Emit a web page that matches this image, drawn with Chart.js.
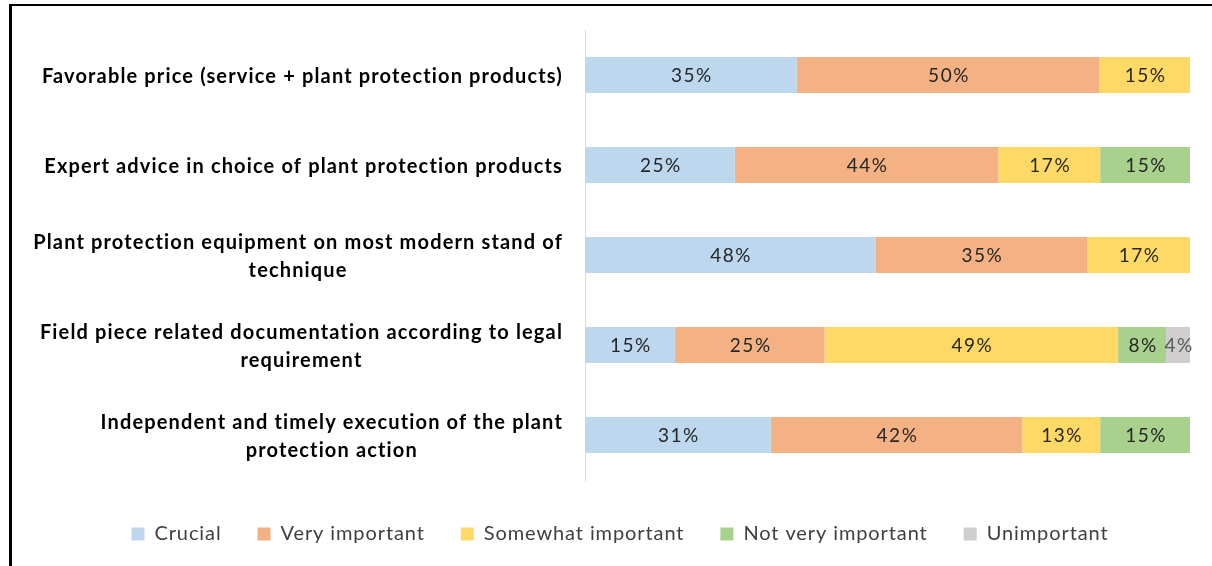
<!DOCTYPE html>
<html>
<head>
<meta charset="utf-8">
<script src="https://cdn.jsdelivr.net/npm/chart.js@4.4.1/dist/chart.umd.min.js"></script>
<style>
  html, body { margin: 0; padding: 0; background: #fff; }
  #wrap { position: relative; width: 1212px; height: 566px; }
  #frame {
    position: absolute; left: 9px; top: 4px; right: 0; bottom: 0;
    border-top: 2px solid #000; border-left: 3px solid #000;
    pointer-events: none;
  }
</style>
</head>
<body>
<div id="wrap">
  <canvas id="chart" width="1212" height="566"></canvas>
  <div id="frame"></div>
</div>
<script>
const categories = [
  ['Favorable price (service + plant protection products)'],
  ['Expert advice in choice of plant protection products'],
  ['Plant protection equipment on most modern stand of', 'technique'],
  ['Field piece related documentation according to legal', 'requirement'],
  ['Independent and timely execution of the plant', 'protection action']
];

const seriesNames = ['Crucial', 'Very important', 'Somewhat important', 'Not very important', 'Unimportant'];

// answer shares in percent, one entry per category
const crucial           = [35, 25, 48, 15, 31];
const veryImportant     = [50, 44, 35, 25, 42];
const somewhatImportant = [15, 17, 17, 49, 13];
const notVeryImportant  = [null, 15, null, 8, 15];
const unimportant       = [null, null, null, 4, null];

const seriesValues = [crucial, veryImportant, somewhatImportant, notVeryImportant, unimportant];
const seriesColors = ['#BDD7EE', '#F4B183', '#FFD966', '#A9D18E', '#D0CECE'];
const labelColors  = ['#262626', '#262626', '#262626', '#262626', '#595959'];

// rounded shares don't always add up to 100, so scale each row to a full bar
const rowTotals = categories.map((_, i) =>
  seriesValues.reduce((sum, s) => sum + (s[i] || 0), 0));

const datasets = seriesNames.map((name, k) => ({
  label: name,
  data: seriesValues[k].map((v, i) => v == null ? null : v / rowTotals[i] * 100),
  raw: seriesValues[k],
  backgroundColor: seriesColors[k],
  borderWidth: 0,
  categoryPercentage: 0.8,
  barPercentage: 0.5
}));

const FONT = 'Lato, "Open Sans", sans-serif';

// slightly looser tracking for all canvas text (legend included)
const tracking = {
  id: 'tracking',
  beforeUpdate(chart) { chart.ctx.letterSpacing = '0.9px'; },
  beforeDraw(chart) { chart.ctx.letterSpacing = '0.9px'; }
};

// category names: lines centred on each other, longest line right-aligned to the axis
const categoryLabels = {
  id: 'categoryLabels',
  afterDraw(chart) {
    const {ctx, scales: {y}} = chart;
    ctx.save();
    ctx.font = 'bold 20px ' + FONT;
    ctx.letterSpacing = '1.15px';
    ctx.fillStyle = '#000';
    ctx.textAlign = 'center';
    ctx.textBaseline = 'middle';
    const right = chart.chartArea.left - 22;
    const lineH = 28;
    categories.forEach((lines, i) => {
      const w = Math.max(...lines.map(l => ctx.measureText(l).width));
      const cx = right - w / 2;
      const y0 = y.getPixelForValue(i) + 2 - (lines.length - 1) * lineH / 2;
      lines.forEach((l, j) => ctx.fillText(l, cx, y0 + j * lineH));
    });
    ctx.restore();
  }
};

// percentage printed in the middle of every segment
const segmentLabels = {
  id: 'segmentLabels',
  afterDatasetsDraw(chart) {
    const {ctx} = chart;
    ctx.save();
    ctx.font = '19px ' + FONT;
    ctx.letterSpacing = '1.5px';
    ctx.textAlign = 'center';
    ctx.textBaseline = 'middle';
    chart.data.datasets.forEach((ds, k) => {
      chart.getDatasetMeta(k).data.forEach((bar, i) => {
        const v = ds.raw[i];
        if (v == null) return;
        ctx.fillStyle = labelColors[k];
        ctx.fillText(v + '%', (bar.x + bar.base) / 2 + 1, bar.y + 1);
      });
    });
    ctx.restore();
  }
};

new Chart(document.getElementById('chart'), {
  type: 'bar',
  data: { labels: categories, datasets: datasets },
  options: {
    indexAxis: 'y',
    responsive: false,
    animation: false,
    layout: { padding: { top: 30, left: 50, right: 22, bottom: 12 } },
    scales: {
      x: {
        stacked: true, min: 0, max: 100,
        grid: { display: false },
        border: { display: false },
        ticks: { display: false },
        afterFit: s => { s.height = 8; }
      },
      y: {
        stacked: true,
        grid: { display: true, drawOnChartArea: false, drawTicks: false },
        border: { display: true, color: '#D9D9D9', width: 1 },
        ticks: { display: false },
        afterFit: s => { s.width = 535; }
      }
    },
    plugins: {
      tooltip: { enabled: false },
      legend: {
        position: 'bottom',
        labels: {
          boxWidth: 13,
          boxHeight: 13,
          padding: 36,
          color: '#404040',
          font: { family: FONT, size: 20 }
        }
      }
    }
  },
  plugins: [tracking, segmentLabels, categoryLabels]
});
</script>
</body>
</html>
